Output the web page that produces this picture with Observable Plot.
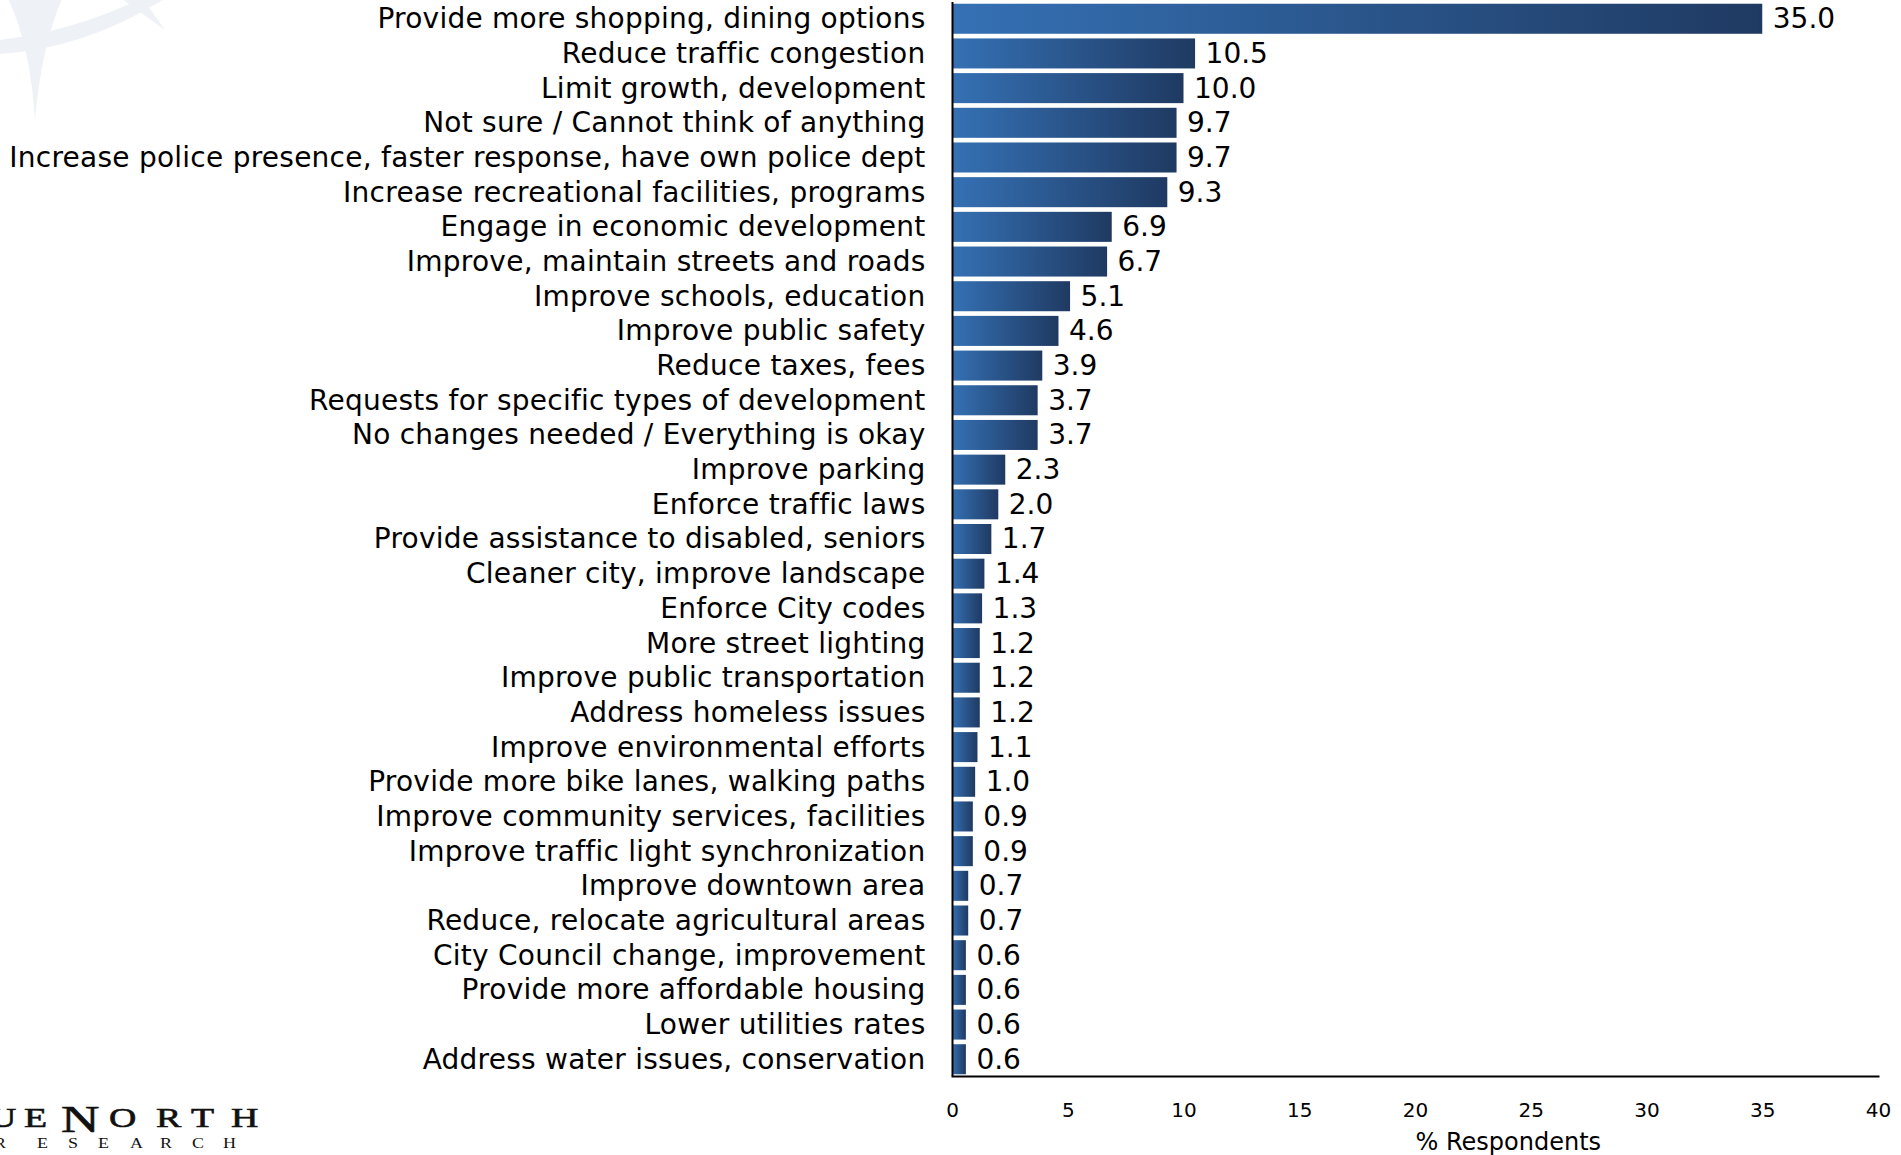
<!DOCTYPE html>
<html><head><meta charset="utf-8">
<script src="https://cdn.jsdelivr.net/npm/d3@7"></script>
<script src="https://cdn.jsdelivr.net/npm/@observablehq/plot@0.6"></script>
<style>
html,body{margin:0;padding:0;background:#fff;}
#wrap{position:relative;width:1901px;height:1155px;overflow:hidden;background:#fff;}
#watermark{position:absolute;left:0;top:0;}
#chart{position:absolute;left:0;top:0;}
#chart g[aria-label="y-axis tick label"] text{letter-spacing:0.25px;}
#logo{position:absolute;left:0;top:0;width:300px;height:1155px;pointer-events:none;font-family:"Liberation Serif","DejaVu Serif",serif;color:#111;}
#logo span{position:absolute;line-height:0.7;transform-origin:0 0;white-space:nowrap;}
#logo span.big{-webkit-text-stroke:0.6px #111;}
</style></head><body>
<div id="wrap">
<svg id="watermark" width="220" height="140">
  <path d="M0,40 Q80,30 150,-6 L172,-6 Q90,48 0,54 Z" fill="#eef2f7"/>
  <path d="M4,-10 Q30,40 35,120 Q42,40 66,-10 Z" fill="#eef2f7"/>
  <path d="M118,-4 L165,30 L138,-8 Z" fill="#eef2f7"/>
</svg>
<div id="chart"></div>
<div id="logo"></div>
</div>
<script>
const categories = [
  "Provide more shopping, dining options",
  "Reduce traffic congestion",
  "Limit growth, development",
  "Not sure / Cannot think of anything",
  "Increase police presence, faster response, have own police dept",
  "Increase recreational facilities, programs",
  "Engage in economic development",
  "Improve, maintain streets and roads",
  "Improve schools, education",
  "Improve public safety",
  "Reduce taxes, fees",
  "Requests for specific types of development",
  "No changes needed / Everything is okay",
  "Improve parking",
  "Enforce traffic laws",
  "Provide assistance to disabled, seniors",
  "Cleaner city, improve landscape",
  "Enforce City codes",
  "More street lighting",
  "Improve public transportation",
  "Address homeless issues",
  "Improve environmental efforts",
  "Provide more bike lanes, walking paths",
  "Improve community services, facilities",
  "Improve traffic light synchronization",
  "Improve downtown area",
  "Reduce, relocate agricultural areas",
  "City Council change, improvement",
  "Provide more affordable housing",
  "Lower utilities rates",
  "Address water issues, conservation"
];
const values = [35.0, 10.5, 10.0, 9.7, 9.7, 9.3, 6.9, 6.7, 5.1, 4.6, 3.9, 3.7, 3.7, 2.3, 2.0, 1.7, 1.4, 1.3, 1.2, 1.2, 1.2, 1.1, 1.0, 0.9, 0.9, 0.7, 0.7, 0.6, 0.6, 0.6, 0.6];
const xTicks = [0, 5, 10, 15, 20, 25, 30, 35, 40];
const xLabel = "% Respondents";

const data = categories.map((c, i) => ({category: c, value: values[i]}));

const gradientDefs = () => {
  const defs = d3.create("svg:defs");
  const g = defs.append("linearGradient").attr("id", "barGrad")
    .attr("x1", "0").attr("x2", "1").attr("y1", "0").attr("y2", "0");
  g.append("stop").attr("offset", "0%").attr("stop-color", "#3571b5");
  g.append("stop").attr("offset", "100%").attr("stop-color", "#1f3a62");
  return defs.node();
};

const chart = Plot.plot({
  width: 1901,
  height: 1155,
  marginLeft: 952,
  marginRight: 23,
  marginTop: 2,
  marginBottom: 79,
  style: {fontFamily: "DejaVu Sans", background: "transparent", color: "#000"},
  x: {domain: [0, 40]},
  y: {domain: categories, paddingInner: 0.134, paddingOuter: 0.05, round: false},
  marks: [
    gradientDefs,
    Plot.barX(data, {x: "value", y: "category", fill: "url(#barGrad)"}),
    Plot.text(data, {x: "value", y: "category", text: d => d.value.toFixed(1), textAnchor: "start", dx: 10, fontSize: 28, fill: "#000"}),
    Plot.axisY({tickSize: 0, tickPadding: 27, fontSize: 28, label: null}),
    Plot.axisX({ticks: xTicks, tickSize: 0, tickPadding: 26, fontSize: 20, label: null}),
    Plot.ruleX([0], {stroke: "#000", strokeWidth: 2}),
    Plot.frame({anchor: "bottom", stroke: "#000", strokeWidth: 2}),
    Plot.text([xLabel], {x: 20, frameAnchor: "bottom", dy: 73, textAnchor: "start", fontSize: 24, fill: "#000", text: d => d})
  ]
});
document.getElementById("chart").appendChild(chart);

// logo (decoration, partly cut off at the left edge as in the reference)
const logo = document.getElementById("logo");
const big = [["U",-11,27,1109],["E",24,27,1109],["N",61,38,1106],["O",109,27,1109],["R",156,27,1109],["T",191,27,1109],["H",231,27,1109]];
big.forEach(([ch, x, fs, top]) => {
  const s = document.createElement("span");
  s.className = "big";
  s.textContent = ch; s.style.left = x + "px"; s.style.fontSize = fs + "px";
  s.style.top = top + "px"; s.style.transform = "scaleX(1.4)";
  logo.appendChild(s);
});
const small = [["R",-6],["E",37],["S",68],["E",98],["A",130],["R",160],["C",192],["H",223]];
small.forEach(([ch, x]) => {
  const s = document.createElement("span");
  s.textContent = ch; s.style.left = x + "px"; s.style.fontSize = "15px";
  s.style.top = "1138px"; s.style.transform = "scaleX(1.2)";
  logo.appendChild(s);
});
</script>
</body></html>
